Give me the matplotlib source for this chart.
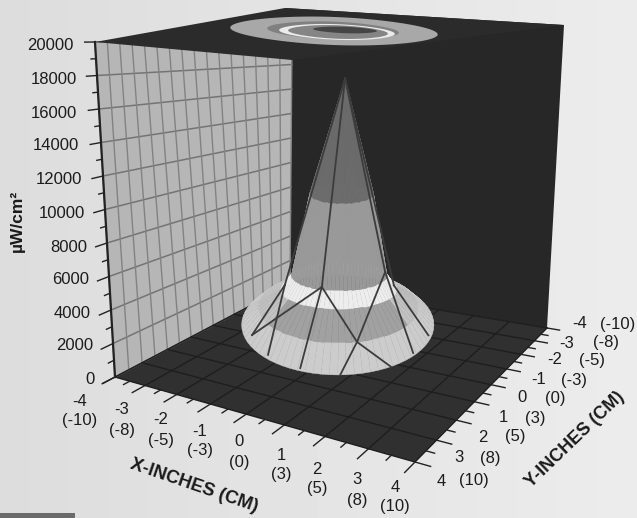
import numpy as np
import matplotlib
matplotlib.use("Agg")
import matplotlib.pyplot as plt
from matplotlib.collections import PolyCollection

# ---------- data ----------
z_values = [0, 2000, 4000, 6000, 8000, 10000, 12000, 14000, 16000, 18000, 20000]
inch_values = [-4, -3, -2, -1, 0, 1, 2, 3, 4]
cm_labels = ["(-10)", "(-8)", "(-5)", "(-3)", "(0)", "(3)", "(5)", "(8)", "(10)"]
x_title = "X-INCHES (CM)"
y_title = "Y-INCHES (CM)"
z_title = "µW/cm²"

# beam profile: contour level (µW/cm²) and radius (inches) at that level
level_z = [1780, 2960, 4080, 5000, 10400, 18000]
level_r = [2.53, 2.10, 1.53, 1.26, 0.84, 0.0]
level_flat = [0.52, 0.45, 0.33, 0.31, 0.31, 0.31]
band_grey = [0.80, 0.63, 0.93, 0.60, 0.42]
flank_grey = 0.76

# measurement mesh: nodes (u, v, intensity) and links
mesh_nodes = {
    "P": (0, 0, 18000), "N1": (-.45, .03, 4300), "N2": (.52, -.08, 600),
    "N3": (-2.24, -.8, 500), "N4": (-.97, 1.75, 300), "N5": (.08, 2.34, 300),
    "N6": (1.42, 1.65, 300), "N7": (1.22, -1.63, 4000), "N8": (2.0, .6, 400),
    "N9": (2.4, -.9, 400), "N10": (-1.42, -.53, 4000), "N11": (-1.82, .76, 400),
    "N13": (1.45, -.5, 4000),
}
mesh_links = [("P", "N1"), ("P", "N7"), ("P", "N10"), ("P", "N13"),
              ("N1", "N3"), ("N1", "N4"), ("N1", "N2"),
              ("N2", "N5"), ("N2", "N6"), ("N2", "N7"),
              ("N7", "N8"), ("N13", "N9"), ("N10", "N3"), ("N10", "N11")]

# ceiling projection of the beam: contour half-widths (inches) and grey
ceil_r = [2.60, 1.65, 1.45, 1.25, 0.80]
ceil_grey = [0.66, 0.50, 0.92, 0.52, 0.27]

# ---------- layout ----------
W, H = 637, 518
plt.rcParams["font.family"] = ["Liberation Sans", "DejaVu Sans"]
fig = plt.figure(figsize=(W / 100, H / 100), dpi=100)
ax = fig.add_axes([0, 0, 1, 1])
ax.set_xlim(0, W); ax.set_ylim(H, 0); ax.axis("off")
ax.imshow(np.linspace(0.865, 0.925, 64).reshape(1, -1), extent=(0, W, H, 0),
          cmap="gray", vmin=0, vmax=1, aspect="auto", zorder=0)

floor_px = {(-4, 4): (115, 377), (4, 4): (415, 462), (4, -4): (547, 328), (-4, -4): (290, 285)}
top_px = {(-4, 4): (95, 42), (4, 4): (432, 85), (4, -4): (564, 25), (-4, -4): (292, 40)}

src = list(floor_px)
A = []
for (sx, sy) in src:
    px, py = floor_px[(sx, sy)]
    A.append([sx, sy, 1, 0, 0, 0, -px * sx, -px * sy, -px])
    A.append([0, 0, 0, sx, sy, 1, -py * sx, -py * sy, -py])
Hf = np.linalg.svd(np.array(A, float))[2][-1].reshape(3, 3)


def floor(x, y):
    p = Hf @ np.array([x, y, 1.0])
    return p[:2] / p[2]


def top(x, y):
    s, t = (x + 4) / 8, (y + 4) / 8
    c = lambda a, b: np.array(top_px[(a, b)], float)
    return ((1 - s) * (1 - t) * c(-4, -4) + s * (1 - t) * c(4, -4)
            + (1 - s) * t * c(-4, 4) + s * t * c(4, 4))


def proj(x, y, z):
    return floor(x, y) + (top(x, y) - floor(x, y)) * z / 20000


def beam(u, v, z, flat=0.31):
    return (337 + 9 * z / 20000 + 38 * u, 352 - 304 * z / 20000 + 38 * flat * v)


dark = "#272727"
# enclosure
ax.fill(*zip((292, 60), (285, 8), (564, 25), floor_px[(4, -4)], floor_px[(-4, -4)]), color=dark, lw=0, zorder=1)
ax.fill(*zip(*[floor_px[k] for k in [(-4, 4), (4, 4), (4, -4), (-4, -4)]]), color="#303030", lw=0, zorder=2)
ax.fill(*zip(proj(-4, 4, 0), proj(-4, -4, 0), proj(-4, -4, 20000), proj(-4, 4, 20000)),
        color="#b6b6b6", lw=0, zorder=3)

# wall grid
for z in np.arange(0, 20001, 2000):
    a, b = proj(-4, 4, z), proj(-4, -4, z)
    ax.plot([a[0], b[0]], [a[1], b[1]], color="#747474", lw=1.1, zorder=4)
for y in np.arange(-4, 4.01, 0.5):
    a, b = proj(-4, y, 0), proj(-4, y, 20000)
    ax.plot([a[0], b[0]], [a[1], b[1]], color="#828282", lw=1.0, zorder=4)

# ceiling
ax.fill(*zip((95, 42), (285, 8), (564, 25), (292, 60)), color="#2b2b2b", lw=0, zorder=5)
th = np.linspace(0, 2 * np.pi, 90)
centres = [(334, 31), (333, 30.5), (337, 32), (338, 32), (345, 30)]
for r, g, (cx, cy) in zip(ceil_r, ceil_grey, centres):
    sx = 38 * r
    sy = 5.4 * r if r > 1 else 4.0 * r
    ring = np.c_[cx + sx * np.cos(th) * (1 + 0.05 * np.cos(2 * th)),
                 cy + sy * np.sin(th) + 0.035 * sx * np.cos(th)]
    ax.fill(ring[:, 0], ring[:, 1], color=str(g), lw=0, zorder=6)

# floor grid
for v in np.arange(-4, 4.01, 1):
    for pair in ([(v, -4), (v, 4)], [(-4, v), (4, v)]):
        a, b = floor(*pair[0]), floor(*pair[1])
        ax.plot([a[0], b[0]], [a[1], b[1]], color="#1e1e1e", lw=1.0, zorder=7)

# beam surface
angles = np.linspace(0, 2 * np.pi, 73)
polys, shades, keys = [], [], []
for i, g in enumerate(band_grey):
    r0, r1 = level_r[i], level_r[i + 1]
    z0, z1 = level_z[i], level_z[i + 1]
    f0, f1 = level_flat[i], level_flat[i + 1]
    for a0, a1 in zip(angles[:-1], angles[1:]):
        mid = (a0 + a1) / 2
        quad = [beam(r0 * np.cos(a0), r0 * np.sin(a0), z0, f0),
                beam(r0 * np.cos(a1), r0 * np.sin(a1), z0, f0),
                beam(r1 * np.cos(a1), r1 * np.sin(a1), z1, f1),
                beam(r1 * np.cos(a0), r1 * np.sin(a0), z1, f1)]
        shade = flank_grey if (i == 1 and (np.sin(mid) < 0 or abs(np.cos(mid)) > 0.85)) else g
        polys.append(quad); shades.append(shade); keys.append(np.sin(mid))
order = np.argsort(keys)
pc = PolyCollection([polys[i] for i in order],
                    facecolors=[str(shades[i]) for i in order],
                    edgecolors=[str(shades[i]) for i in order], linewidths=0.3, zorder=8)
ax.add_collection(pc)
for a, b in mesh_links:
    p, q = beam(*mesh_nodes[a]), beam(*mesh_nodes[b])
    ax.plot([p[0], q[0]], [p[1], q[1]], color="#3c3c3c", lw=1.3, zorder=9)

# axis edge and ticks
tick_c = "#222222"
a, b = proj(-4, 4, 0), proj(-4, 4, 20000)
ax.plot([a[0], b[0]], [a[1], b[1]], color="#222222", lw=1.6, zorder=10)
for z in np.arange(0, 20001, 1000):
    a, b = proj(-4, 4, z), proj(-4, 4.42 if z % 2000 == 0 else 4.2, z)
    ax.plot([a[0], b[0]], [a[1], b[1]], color=tick_c, lw=1.0, zorder=10)
for v in np.arange(-4, 4.01, 0.5):
    major = float(v).is_integer()
    a, b = floor(v, 4), floor(v, 4.45 if major else 4.22)
    ax.plot([a[0], b[0]], [a[1], b[1]], color=tick_c, lw=1.0, zorder=10)
    a, b = floor(4, v), floor(4.32 if major else 4.18, v)
    ax.plot([a[0], b[0]], [a[1], b[1]], color=tick_c, lw=1.0, zorder=10)

# text
txt = dict(color="#1c1c1c", fontsize=12, zorder=11)
z_right = [95, 93, 91, 89, 87, 85, 82, 79, 77, 77, 74]
z_y = [380, 346, 313, 280, 247, 213, 180, 146, 113, 79, 46]
for z, xr, yy in zip(z_values, z_right, z_y):
    ax.text(xr, yy, str(z), ha="right", va="center", **txt)

x_pos = [(80, 402, 420), (122, 410, 430), (161, 420, 440), (200, 431, 451), (239, 442, 463),
         (281, 456, 475), (317, 470, 489), (357, 480, 500), (395, 488, 507)]
for v, c, (xx, y1, y2) in zip(inch_values, cm_labels, x_pos):
    ax.text(xx, y1, str(v), ha="center", va="center", **txt)
    ax.text(xx, y2, c, ha="center", va="center", **txt)

y_pos = [(580, 618, 324), (567, 606, 343), (555, 592, 360), (539, 574, 380), (522, 555, 398),
         (503, 535, 418), (483, 515, 437), (459, 490, 458), (441, 474, 481)]
for v, c, (x1, x2, yy) in zip(inch_values, cm_labels, y_pos):
    ax.text(x1, yy, str(v), ha="center", va="center", **txt)
    ax.text(x2, yy, c, ha="center", va="center", **txt)

bold = dict(color="#1a1a1a", fontweight="bold", ha="center", va="center", zorder=11, rotation_mode="anchor")
ax.text(194, 486, x_title, rotation=-19, fontsize=13.2, **bold)
ax.text(575, 440, y_title, rotation=44, fontsize=13, **bold)
ax.text(17, 221, z_title, rotation=90, fontsize=12.5, **bold)

ax.fill([0, 75, 75, 0], [513, 513, 518, 518], color="#6a6a6a", lw=0, zorder=11)

fig.savefig("out.png", dpi=100)
